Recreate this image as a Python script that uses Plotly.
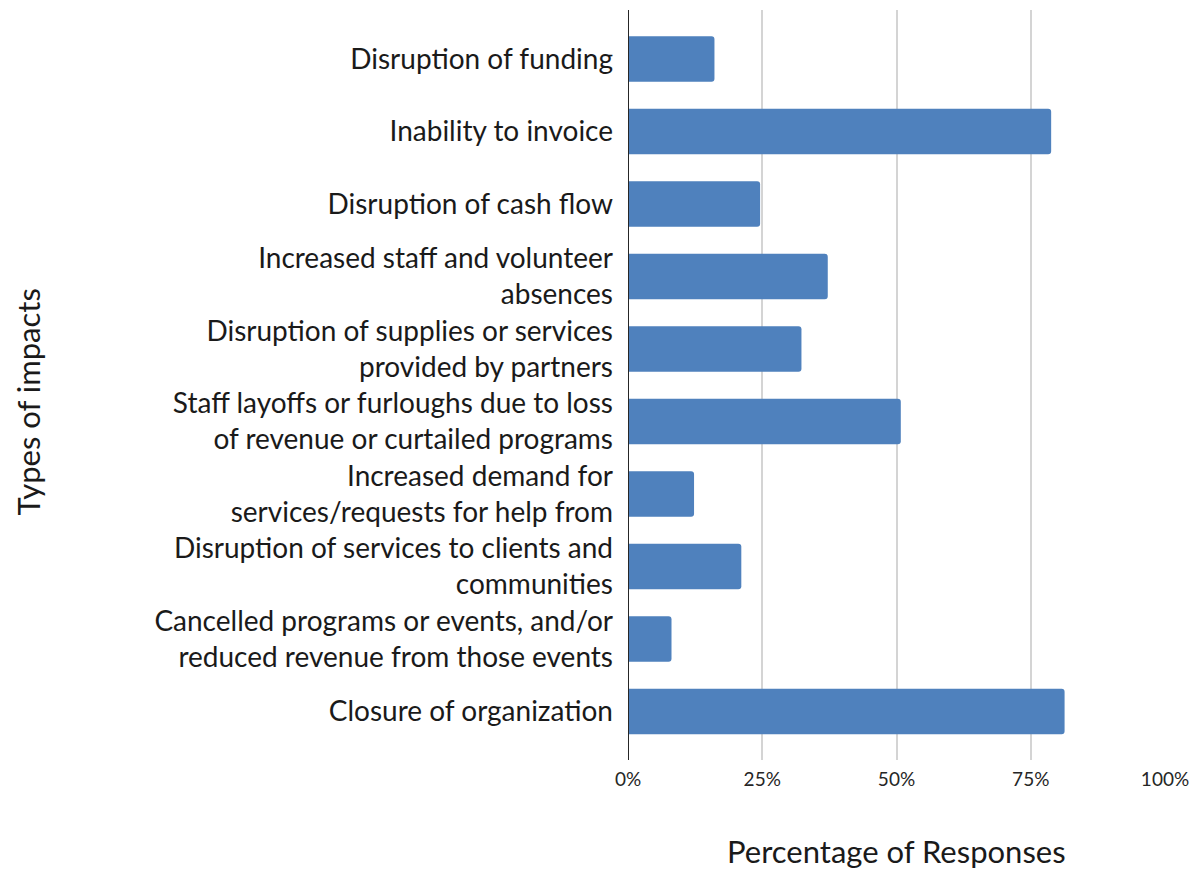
import plotly.graph_objects as go

# Impact categories (top to bottom) and share of responses
impacts = [
    "Disruption of funding",
    "Inability to invoice",
    "Disruption of cash flow",
    "Increased staff and volunteer<br>absences",
    "Disruption of supplies or services<br>provided by partners",
    "Staff layoffs or furloughs due to loss<br>of revenue or curtailed programs",
    "Increased demand for<br>services/requests for help from",
    "Disruption of services to clients and<br>communities",
    "Cancelled programs or events, and/or<br>reduced revenue from those events",
    "Closure of organization",
]
shares = [0.161, 0.788, 0.246, 0.372, 0.323, 0.508, 0.123, 0.211, 0.081, 0.813]

x_ticks = [0, 0.25, 0.5, 0.75, 1.0]
x_tick_labels = ["0%", "25%", "50%", "75%", "100%"]

positions = list(range(len(impacts)))

FONT = "Lato"
TEXT = "#1a1a1a"

fig = go.Figure(
    go.Bar(
        x=shares,
        y=positions,
        orientation="h",
        width=0.63,
        marker=dict(color="#4f81bd", line=dict(width=0), cornerradius=3),
        hoverinfo="skip",
    )
)

fig.update_layout(
    width=1191,
    height=871,
    margin=dict(l=628, r=26, t=10, b=111, autoexpand=False),
    paper_bgcolor="white",
    plot_bgcolor="white",
    showlegend=False,
    font=dict(family=FONT, color=TEXT),
    xaxis=dict(
        range=[0, 1.0],
        tickvals=x_ticks,
        ticktext=x_tick_labels,
        showgrid=True,
        gridcolor="#d4d4d4",
        gridwidth=2,
        zeroline=False,
        showline=False,
        tickfont=dict(size=19, color="#262626"),
        ticks="",
        ticklabelstandoff=6,
        automargin=False,
    ),
    yaxis=dict(
        range=[9.669, -0.676],
        tickvals=positions,
        ticktext=impacts,
        showgrid=False,
        zeroline=False,
        showline=False,
        tickfont=dict(size=28, color=TEXT),
        ticks="",
        ticklabelstandoff=14,
        automargin=False,
    ),
    shapes=[
        dict(
            type="line", xref="x", yref="paper",
            x0=0, x1=0, y0=0, y1=1,
            line=dict(color="#262626", width=2),
        )
    ],
    annotations=[
        dict(
            text="Percentage of Responses",
            xref="paper", yref="paper",
            x=0.5, y=-0.121, xanchor="center", yanchor="middle",
            showarrow=False,
            font=dict(size=31, color=TEXT, family=FONT),
        ),
        dict(
            text="Types of impacts",
            xref="paper", yref="paper",
            x=-1.117, y=0.477, xanchor="center", yanchor="middle",
            textangle=-90,
            showarrow=False,
            font=dict(size=31, color=TEXT, family=FONT),
        ),
    ],
)

fig.write_html("out.html")
